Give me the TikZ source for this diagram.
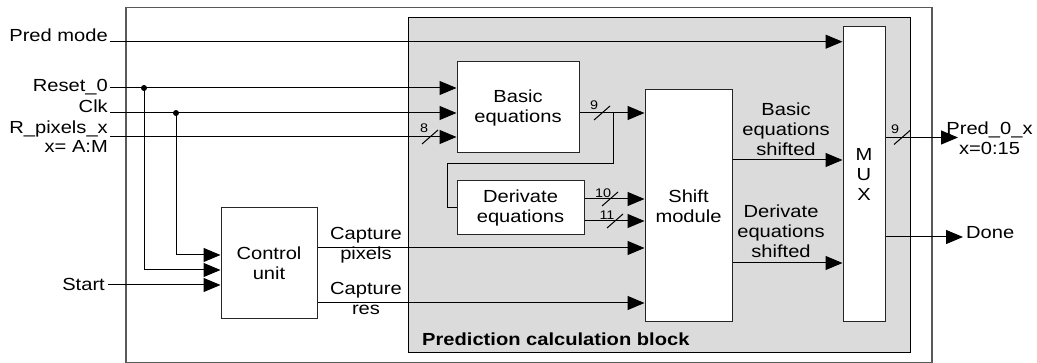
\documentclass[tikz,border=0pt]{standalone}
\usepackage{fontspec}
\setmainfont{Liberation Sans}[FakeStretch=1.15]
\usetikzlibrary{arrows.meta,calc}

\tikzset{
  wire/.style={line width=1pt, draw=black},
  sig/.style={wire, -{Triangle[length=17pt,width=14pt]}},
  blk/.style={draw=black!85, line width=1pt, fill=white, inner sep=0pt, align=center,
              font=\fontsize{17.5}{20}\selectfont},
  lbl/.style={inner sep=0pt, align=center, font=\fontsize{17.5}{20}\selectfont},
  sidelbl/.style={lbl, anchor=base east},
  buswidth/.style={inner sep=0pt, font=\fontsize{12.5}{14}\selectfont},
  jdot/.style={fill=black},
}

\begin{document}
\begin{tikzpicture}[x=1pt,y=-1pt]
\useasboundingbox (0,0) rectangle (1037,363);

% system frame and prediction block area
\node[draw=black!65, line width=1.5pt, minimum width=806pt, minimum height=355pt,
      anchor=north west, inner sep=0pt] (system) at (125,7) {};
\node[draw=black, line width=1pt, fill=black!14, minimum width=502pt, minimum height=335pt,
      anchor=north west, inner sep=0pt] (pcb) at (408,17) {};
\node[lbl, anchor=base west, font=\fontsize{17.5}{20}\selectfont\bfseries] (pcbtitle)
      at (422,346) {Prediction calculation block};

% functional blocks
\node[blk, minimum width=122pt, minimum height=91pt]  (basic) at (518,107.5) {Basic\\equations};
\node[blk, minimum width=127pt, minimum height=54pt]  (deriv) at (520.5,208) {Derivate\\equations};
\node[blk, minimum width=87pt,  minimum height=232pt] (shift) at (688.5,206) {Shift\\module};
\node[blk, minimum width=42pt,  minimum height=295pt] (mux)   at (864,174.5) {M\\U\\X};
\node[blk, minimum width=96pt,  minimum height=111pt] (ctrl)  at (269,263.5) {Control\\unit};

% input labels
\node[sidelbl] (pmlbl) at (108,41.7) {Pred mode};
\node[sidelbl] (rslbl) at (108,91.5) {Reset\_0};
\node[sidelbl] (cklbl) at (108,113) {Clk};
\node[sidelbl] (rplbl) at (108,133.5) {R\_pixels\_x};
\node[sidelbl] (rprng) at (108,153) {x= A:M};
\node[sidelbl] (stlbl) at (105,291) {Start};

% input wire starts and junctions
\coordinate (pm) at (110,41.7);
\coordinate (rs) at (110,88);
\coordinate (ck) at (110,113);
\coordinate (rp) at (110,137);
\coordinate (st) at (108,285);
\coordinate (rsdot) at (144,88);
\coordinate (ckdot) at (176,113);

\draw[sig] (pm) -- (pm -| mux.west);
\draw[sig] (rs) -- (rs -| basic.west);
\draw[sig] (ck) -- (ck -| basic.west);
\draw[sig] (rp) -- (rp -| basic.west);
\fill[jdot] (rsdot) circle (3);
\fill[jdot] (ckdot) circle (3);
\draw[sig] (ckdot) |- ($(ctrl.west)+(0,-8.5)$);
\draw[sig] (rsdot) |- ($(ctrl.west)+(0,6.5)$);
\draw[sig] (st) -- (st -| ctrl.west);

% bus width marks on inputs
\draw[wire] (430,137) ++(-8,7) -- ++(16,-14);
\node[buswidth] (w8) at (424,128) {8};

% basic equations output and feedback to derivate equations
\coordinate (bo) at ($(basic.east)+(0,5.5)$);
\coordinate (fb) at (613,113);
\draw[sig] (bo) -- (bo -| shift.west);
\draw[wire] (fb) -- (613,164) -- (447,164) |- (deriv.west);
\draw[wire] (602,113) ++(-8,7) -- ++(16,-14);
\node[buswidth] (w9a) at (594,105) {9};

% derivate equations outputs
\coordinate (d1) at ($(deriv.east)+(0,-9)$);
\coordinate (d2) at ($(deriv.east)+(0,13)$);
\draw[sig] (d1) -- (d1 -| shift.west);
\draw[sig] (d2) -- (d2 -| shift.west);
\draw[wire] (610,199) ++(-8,7) -- ++(16,-14);
\draw[wire] (615,221) ++(-8,7) -- ++(16,-14);
\node[buswidth] (w10) at (603,193) {10};
\node[buswidth] (w11) at (607,215) {11};

% control unit outputs
\coordinate (cp) at ($(ctrl.east)+(0,-15.5)$);
\coordinate (cr) at ($(ctrl.east)+(0,39.5)$);
\draw[sig] (cp) -- (cp -| shift.west);
\draw[sig] (cr) -- (cr -| shift.west);
\node[lbl] (cplbl) at (366,245) {Capture\\pixels};
\node[lbl] (crlbl) at (366,298) {Capture\\res};

% shift module outputs
\coordinate (sb) at ($(shift.east)+(0,-46)$);
\coordinate (sd) at ($(shift.east)+(0,57)$);
\draw[sig] (sb) -- (sb -| mux.west);
\draw[sig] (sd) -- (sd -| mux.west);
\node[lbl] (sblbl) at (786,129) {Basic\\equations\\shifted};
\node[lbl] (sdlbl) at (781,231.5) {Derivate\\equations\\shifted};

% multiplexer outputs
\coordinate (po) at ($(mux.east)+(0,-37)$);
\coordinate (do) at ($(mux.east)+(0,62.5)$);
\coordinate (pot) at (958,137.5);
\coordinate (dot) at (963,237);
\draw[sig] (po) -- (pot);
\draw[sig] (do) -- (dot);
\draw[wire] (902,137.5) ++(-8,7) -- ++(16,-14);
\node[buswidth] (w9b) at (895,129) {9};
\node[lbl] (polbl) at (989.5,138) {Pred\_0\_x\\x=0:15};
\node[lbl, anchor=base west] (dolbl) at (966,239) {Done};
\end{tikzpicture}
\end{document}
